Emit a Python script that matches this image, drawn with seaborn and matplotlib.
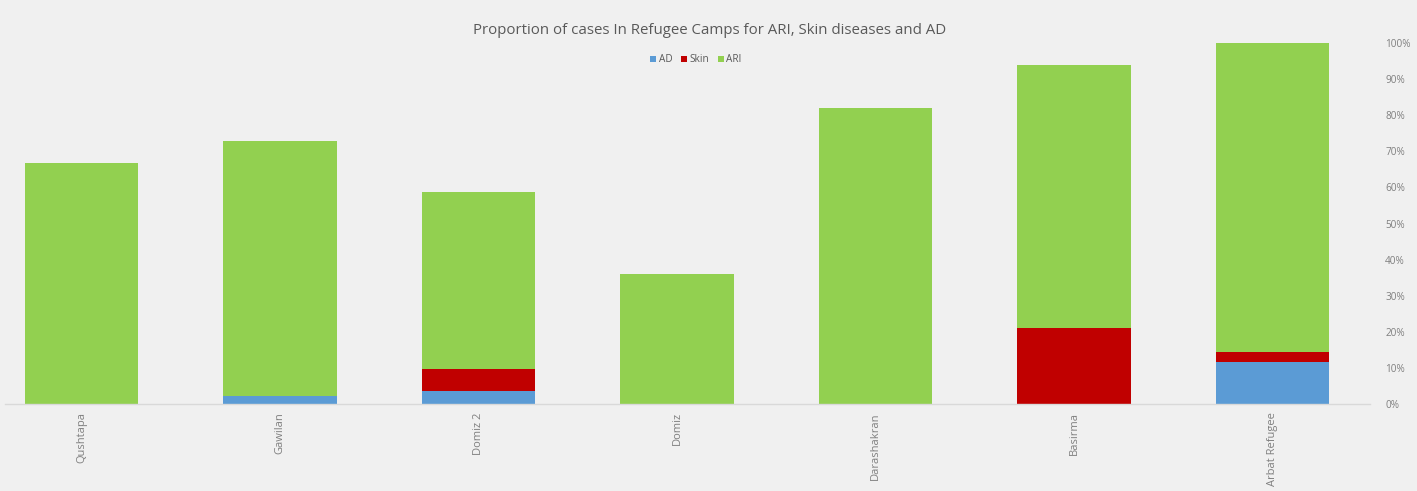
import matplotlib
matplotlib.use("Agg")
import matplotlib.pyplot as plt
from matplotlib.patches import Patch
from matplotlib.ticker import PercentFormatter
import seaborn as sns
import pandas as pd
import numpy as np

camps = ["Qushtapa", "Gawilan", "Domiz 2", "Domiz", "Darashakran", "Basirma", "Arbat Refugee"]
ad = [0.0, 2.2, 3.6, 0.0, 0.0, 0.0, 11.7]
skin = [0.0, 0.0, 6.1, 0.0, 0.0, 21.1, 2.7]
ari = [66.8, 70.7, 49.0, 36.0, 82.0, 72.8, 85.6]
series_names = ["AD", "Skin", "ARI"]
colors = {"AD": "#5b9bd5", "Skin": "#c00000", "ARI": "#92d050"}

sns.set_theme(style="white")
plt.rcParams["font.family"] = ["Open Sans", "DejaVu Sans"]

df = pd.DataFrame({"camp": camps, "AD": ad, "Skin": skin, "ARI": ari})
df["AD_c"] = df["AD"] / 100
df["Skin_c"] = (df["AD"] + df["Skin"]) / 100
df["ARI_c"] = (df["AD"] + df["Skin"] + df["ARI"]) / 100

bg = "#f0f0f0"
fig = plt.figure(figsize=(14.17, 4.91), dpi=100, facecolor=bg)
W, H = 1417, 491
ax = fig.add_axes([5 / W, (H - 404) / H, (1370 - 5) / W, (404 - 43) / H])
ax.set_facecolor(bg)

for col, name in [("ARI_c", "ARI"), ("Skin_c", "Skin"), ("AD_c", "AD")]:
    sns.barplot(data=df, x="camp", y=col, order=camps, color=colors[name],
                width=0.57, saturation=1, ax=ax, linewidth=0)

ax.set_xlim((5 - 81.5) / 198.5, (1370 - 81.5) / 198.5)
ax.set_ylim(0, 1.0)
ax.set_xlabel("")
ax.set_ylabel("")
ax.yaxis.tick_right()
ax.set_yticks(np.arange(0, 1.01, 0.1))
ax.yaxis.set_major_formatter(PercentFormatter(1.0, decimals=0))
ax.tick_params(axis="y", length=0, labelsize=7.2, colors="#7f7f7f", pad=11)
ax.tick_params(axis="x", length=0, labelsize=8, colors="#7f7f7f", pad=6)
for lab in ax.get_xticklabels():
    lab.set_rotation(90)
    lab.set_va("top")
    lab.set_ha("center")
for s in ["top", "left", "right"]:
    ax.spines[s].set_visible(False)
ax.spines["bottom"].set_color("#d9d9d9")
ax.spines["bottom"].set_linewidth(1)

fig.text(710 / W, 1 - 30 / H, "Proportion of cases In Refugee Camps for ARI, Skin diseases and AD",
         ha="center", va="center", fontsize=10.8, color="#595959")

handles = [Patch(facecolor=colors[n], edgecolor="none", label=n) for n in series_names]
fig.legend(handles=handles, loc="center", bbox_to_anchor=(696 / W, 1 - 60 / H), ncol=3,
           frameon=False, fontsize=7.2, handlelength=0.6, handleheight=0.6,
           handletextpad=0.3, columnspacing=0.8, labelcolor="#595959")

fig.savefig("out.png", dpi=100, facecolor=bg)
